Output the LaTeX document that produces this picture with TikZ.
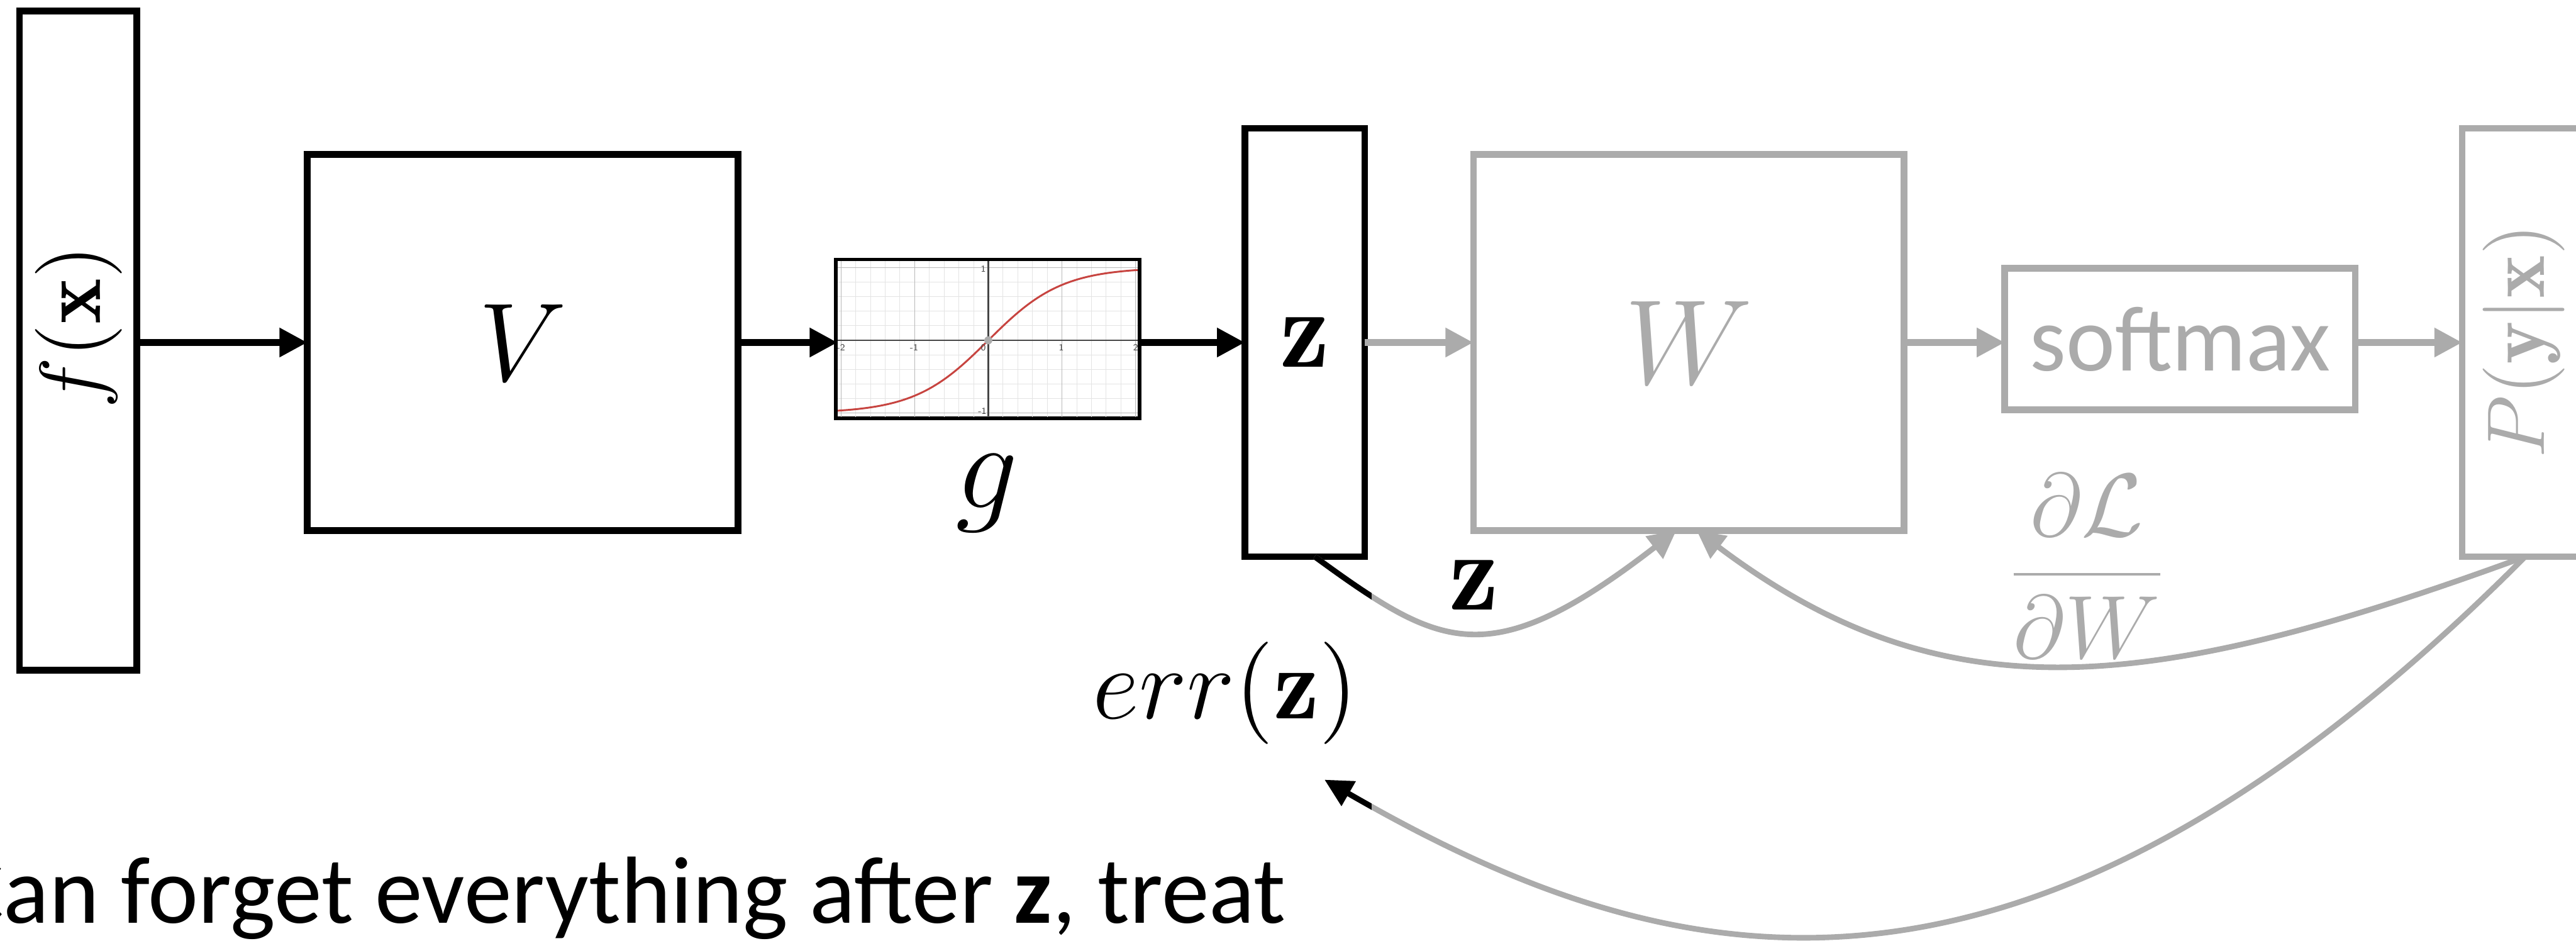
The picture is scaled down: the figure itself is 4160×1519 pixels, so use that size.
\RequirePackage{fix-cm}
\documentclass[tikz,border=0pt]{standalone}
\usepackage{fontspec}
\newfontfamily\carlito{Carlito}
\usetikzlibrary{arrows.meta}
\definecolor{fade}{RGB}{171,171,171}
\definecolor{curvered}{RGB}{199,68,64}
\definecolor{gridminor}{RGB}{228,228,228}
\definecolor{gridmajor}{RGB}{185,185,185}
\definecolor{axisgray}{RGB}{70,70,70}
\tikzset{
  blkbox/.style={draw=black, line width=1.05pt, inner sep=0pt, outer sep=0pt},
  fadebox/.style={draw=fade, line width=1.05pt, inner sep=0pt, outer sep=0pt, text=fade},
  lbl/.style={inner sep=0pt, outer sep=0pt},
  blkarrow/.style={draw=black, line width=1.05pt, -{Triangle[length=4.5pt,width=4.5pt]}},
  fadearrow/.style={draw=fade, line width=1.05pt, -{Triangle[length=4.5pt,width=4.5pt]}},
  fadecurve/.style={draw=fade, line width=0.9pt, -{Triangle[length=4.5pt,width=4.4pt]}},
  blkcurve/.style={draw=black, line width=0.9pt},
  blkcurvetip/.style={draw=black, line width=0.9pt, -{Triangle[length=4.5pt,width=4.4pt]}},
  ticklbl/.style={inner sep=0pt, outer sep=0pt, text=axisgray, font=\fontsize{1.5pt}{2pt}\sffamily}
}
\begin{document}
\begin{tikzpicture}[x=0.1pt,y=-0.1pt]
\useasboundingbox (0,0) rectangle (4160,1519);

% boxes
\node[blkbox, minimum width=18.95pt, minimum height=106.45pt] (fx) at (126,550) {};
\node[blkbox, minimum width=69.55pt, minimum height=60.75pt] (V) at (844,553) {\fontsize{18}{20}\selectfont$V$};
\node[blkbox, line width=1.1pt, minimum width=48.5pt, minimum height=25.1pt] (g) at (1595,547) {};
\node[blkbox, minimum width=19.35pt, minimum height=69.15pt] (z) at (2107,553) {\fontsize{18}{20}\selectfont$\mathbf{z}$};
\node[fadebox, minimum width=69.55pt, minimum height=60.75pt] (W) at (2727,553) {\fontsize{19.5}{22}\selectfont$W$};
\node[fadebox, minimum width=56.65pt, minimum height=22.85pt] (sm) at (3520.5,547.5) {\carlito\fontsize{15}{18}\selectfont softmax};
\node[fadebox, minimum width=19.35pt, minimum height=69.15pt] (P) at (4073,553) {};

% sigmoid plot inside g
\begin{scope}
\clip (1353,421.5) rectangle (1837,672.5);
\fill[white] (1353,421.5) rectangle (1837,672.5);
\foreach \i in {-11,...,11} \draw[gridminor, line width=0.1pt] ({1596+23.8*\i},400) -- ({1596+23.8*\i},700);
\foreach \j in {-6,...,6} \draw[gridminor, line width=0.1pt] (1340,{549.5-23.5*\j}) -- (1850,{549.5-23.5*\j});
\foreach \i in {-10,-5,5,10} \draw[gridmajor, line width=0.12pt] ({1596+23.8*\i},400) -- ({1596+23.8*\i},700);
\foreach \j in {-5,5} \draw[gridmajor, line width=0.12pt] (1340,{549.5-23.5*\j}) -- (1850,{549.5-23.5*\j});
\draw[axisgray, line width=0.22pt] (1340,549.5) -- (1850,549.5);
\draw[axisgray, line width=0.22pt] (1596,400) -- (1596,700);
\draw[curvered, line width=0.3pt] plot[domain=-2.1:2.1, samples=90, smooth] ({1596+119*\x},{549.5-117.5*tanh(\x)});
\fill[fade] (1596,549.5) circle (0.65pt);
\node[ticklbl, anchor=north] (t1) at (1476,556) {-1};
\node[ticklbl, anchor=north] (t2) at (1358,556) {-2};
\node[ticklbl, anchor=north east] (t3) at (1593,556) {0};
\node[ticklbl, anchor=north] (t4) at (1714,556) {1};
\node[ticklbl, anchor=north] (t5) at (1834,556) {2};
\node[ticklbl, anchor=east] (t6) at (1593,434) {1};
\node[ticklbl, anchor=east] (t7) at (1593,664) {-1};
\end{scope}

% labels
\node[lbl, rotate=90] (fxlab) at (127,528) {\fontsize{14}{16}\selectfont$f(\mathbf{x})$};
\node[lbl, rotate=90, text=fade] (Plab) at (4076,551) {\fontsize{13.2}{15}\selectfont$P(\mathbf{y}|\mathbf{x})$};
\node[lbl] (glab) at (1594,797) {\fontsize{20}{24}\selectfont$g$};
\node[lbl] (zlab) at (2380,945) {\fontsize{18}{20}\selectfont$\mathbf{z}$};
\node[lbl] (err) at (1979,1119) {\fontsize{16.5}{18}\selectfont$err(\mathbf{z})$};
\node[lbl, text=fade] (dLdW) at (3370,914) {\fontsize{14.5}{17}\selectfont$\displaystyle\frac{\partial\mathcal{L}}{\partial W}$};
\node[lbl, anchor=base west] (note) at (-76,1490) {\carlito\fontsize{15.4}{18}\selectfont Can forget everything after \textbf{z}, treat};

% straight connectors
\draw[blkarrow] (fx.east |- V.west) -- (V.west);
\draw[blkarrow] (V.east) -- (V.east -| g.west);
\draw[blkarrow] (g.east |- z.west) -- (z.west);
\draw[fadearrow] (z.east) -- (W.west);
\draw[fadearrow] (W.east) -- (W.east -| sm.west);
\draw[fadearrow] (sm.east |- P.west) -- (P.west);

% curved connectors
\coordinate (zout) at ([xshift=1.6pt]z.south);
\coordinate (Win1) at ([xshift=-2pt]W.south);
\coordinate (Win2) at ([xshift=1.3pt]W.south);
\coordinate (Pout) at ([xshift=0.5pt]P.south);
\coordinate (errtip) at ([xshift=16pt,yshift=-14pt]err.center);

\draw[fadecurve] (zout) .. controls +(202,147) and +(-304,235) .. (Win1);
\begin{scope}
\clip (1990,850) rectangle (2215,1100);
\draw[blkcurve] (zout) .. controls +(202,147) and +(-304,235) .. (Win1);
\end{scope}

\draw[fadecurve] (Pout) .. controls +(-609,223) and +(400,301) .. (Win2);

\draw[fadecurve] (Pout) .. controls +(-811,814) and +(563,325) .. (errtip);
\begin{scope}
\clip (2050,1150) rectangle (2215,1400);
\draw[blkcurvetip] (Pout) .. controls +(-811,814) and +(563,325) .. (errtip);
\end{scope}
\end{tikzpicture}
\end{document}
